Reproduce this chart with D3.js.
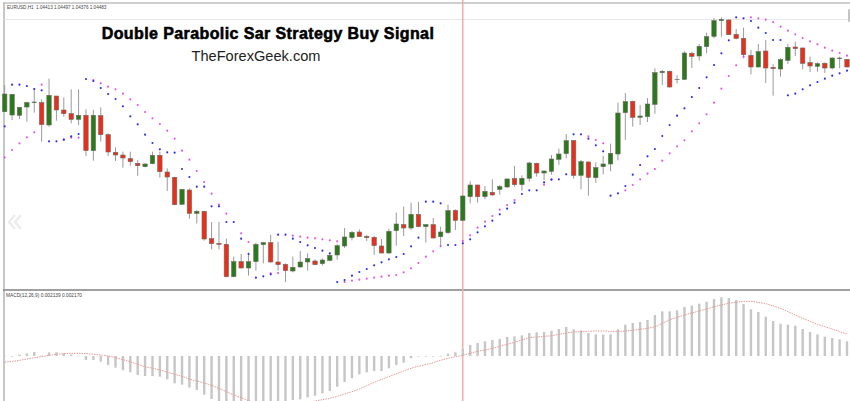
<!DOCTYPE html>
<html lang="en">
<head>
<meta charset="utf-8" />
<title>Double Parabolic Sar Strategy Buy Signal</title>
<script src="https://d3js.org/d3.v7.min.js"></script>
<style>
    html, body { margin: 0; padding: 0; background: #fff; overflow: hidden; }
    svg { display: block; }
</style>
</head>
<body>
<div id="chart"></div>
<script>
// prices, in points above the bottom of the price pane
var open = [535,525,524,549,562,562,495,582,540,529,512,524,418,523,466,413,405,394,380,370,379,404,354,338,257,300,230,236,154,140,137,40,85,66,85,136,142,84,77,57,69,84,87,79,89,105,132,157,174,161,158,132,111,178,196,186,227,190,196,160,172,239,209,280,315,280,293,302,309,334,316,335,380,351,356,392,409,448,344,384,337,370,378,408,532,566,518,520,557,652,656,631,632,710,702,730,761,808,810,767,755,704,669,717,668,663,689,729,726,682,671,680,666,694,692];
var close = [588,587,548,562,564,496,584,540,529,512,524,418,524,466,414,405,396,385,373,378,404,355,339,256,302,230,236,153,139,137,40,85,66,85,137,142,84,76,58,68,84,94,76,90,104,133,159,173,160,157,133,111,176,198,186,227,190,196,156,174,238,209,282,315,280,296,285,310,333,316,335,381,351,357,393,408,448,344,385,338,367,378,410,531,565,518,522,558,652,656,609,632,711,701,731,760,808,812,766,755,706,669,715,666,664,691,728,724,680,672,679,666,696,696,669];
var high = [615,588,548,565,605,572,634,582,578,602,602,542,540,548,470,428,415,415,390,380,415,415,365,340,302,305,240,238,204,204,154,100,108,112,142,144,166,145,80,100,117,110,92,95,112,137,186,177,182,165,162,153,184,232,250,262,264,198,216,190,256,242,284,326,316,312,332,315,335,372,344,385,382,358,405,424,468,450,390,386,383,402,439,562,591,568,555,576,665,660,658,644,716,715,738,772,816,818,812,783,787,720,738,750,678,695,738,745,728,700,683,683,698,700,692];
var low = [535,510,513,505,532,445,490,508,520,500,495,402,388,445,402,387,367,373,343,368,377,337,297,254,256,214,200,148,122,122,38,38,64,43,58,80,82,58,24,53,67,58,75,73,86,91,126,149,159,147,105,110,108,133,162,180,188,142,154,128,168,180,208,260,262,272,283,286,306,310,298,325,340,330,346,375,395,334,302,283,321,347,356,389,450,490,495,504,529,615,607,620,630,666,688,710,755,760,765,752,695,647,668,621,583,640,678,702,662,654,655,651,662,665,668];

// the two parabolic SAR series, null where no dot can be seen
var sarFast = [491,616,616,612,603,599,446,446,451,461,468,633,627,606,588,573,551,521,497,466,441,422,413,412,363,339,310,310,251,251,204,204,154,108,37,41,47,166,166,154,144,134,126,118,110,24,30,43,54,63,74,83,92,99,108,131,157,265,265,260,135,135,140,152,173,191,208,227,244,262,288,299,299,323,331,332,347,467,467,454,434,416,283,290,312,346,375,401,423,462,495,523,545,579,606,638,675,710,749,818,815,807,787,771,750,750,584,589,602,614,624,634,643,650,658];
var sarSlow = [398,420,440,458,473,616,null,null,451,457,457,null,630,620,610,602,589,572,555,534,515,498,478,454,418,391,357,324,289,256,229,null,170,144,null,null,50,51,null,163,160,157,155,152,149,146,24,28,31,34,37,40,43,45,53,65,81,100,116,132,null,null,147,164,187,205,222,241,255,270,null,null,null,316,332,null,null,null,null,461,450,440,null,null,299,315,332,349,363,388,410,431,449,476,500,527,562,604,642,674,700,818,815,811,804,790,778,767,756,746,737,727,718,711,703];

// MACD pane
var macdHist = [0,0,4,8,12,1,11,11,8,4,1,-12,-12,-17,-27,-35,-43,-49,-57,-60,-60,-62,-70,-82,-86,-95,-102,-116,-129,-138,-142,-146,-148,-150,-150,-148,-146,-142,-138,-132,-130,-124,-119,-112,-105,-92,-78,-67,-55,-49,-45,-45,-37,-27,-20,-7,-2,0,-1,-1,7,11,21,33,39,44,48,51,57,59,62,69,71,72,76,81,87,80,77,69,65,64,65,80,94,99,102,108,123,134,134,137,147,151,157,163,171,176,174,168,156,140,132,118,105,97,94,91,81,72,65,58,54,50,44];
var macdSignal = [-19,-16,-13,-9,-5,-2,2,5,7,8,8,7,5,3,0,-5,-11,-17,-25,-32,-37,-42,-48,-55,-61,-69,-75,-81,-88,-97,-107,-117,-125,-134,-140,-145,-149,-151,-151,-149,-145,-140,-135,-131,-127,-121,-114,-107,-99,-89,-79,-70,-62,-53,-45,-37,-31,-26,-20,-13,-7,-2,2,8,14,18,23,29,35,41,48,55,57,59,61,65,69,72,73,74,75,75,74,74,75,77,80,83,88,98,108,116,123,129,135,141,148,153,158,161,164,164,161,157,150,143,133,123,113,104,95,88,81,73,66];

var titleText = "Double Parabolic Sar Strategy Buy Signal";
var subtitleText = "TheForexGeek.com";
var priceLabel = "EURUSD,H1  1.04413 1.04497 1.04376 1.04483";
var macdLabel = "MACD(12,26,9) 0.002139 0.002170";
var cursorBar = 62;

var width = 850, height = 401;

var svg = d3.select("#chart")
    .append("svg")
    .attr("width", width)
    .attr("height", height);

// the reference is a scaled screenshot, so everything is a bit soft
var defs = svg.append("defs");
defs.append("filter").attr("id", "soft")
    .append("feGaussianBlur").attr("stdDeviation", 0.45);

var x = d3.scaleLinear().domain([0, open.length - 1]).range([4.7, 847]);
var y = d3.scaleLinear().domain([0, 870]).range([290, 0]);
var yMacd = d3.scaleLinear().domain([-135, 0]).range([401, 356]);

var chart = svg.append("g").attr("filter", "url(#soft)");

// frame
chart.append("line").attr("x1", 4).attr("x2", 4).attr("y1", 3).attr("y2", 401)
    .attr("stroke", "#a0a0a0").attr("stroke-width", 1.2);
chart.append("line").attr("x1", 3).attr("x2", 850).attr("y1", 3).attr("y2", 3)
    .attr("stroke", "#a0a0a0").attr("stroke-width", 1.2);
chart.append("line").attr("x1", 4).attr("x2", 850).attr("y1", 19.5).attr("y2", 19.5)
    .attr("stroke", "#e8e8e8").attr("stroke-width", 1);
chart.append("line").attr("x1", 3).attr("x2", 850).attr("y1", 290).attr("y2", 290)
    .attr("stroke", "#808080").attr("stroke-width", 1.6);
chart.append("rect").attr("x", 848).attr("y", 9).attr("width", 3).attr("height", 13).attr("rx", 1.5)
    .attr("fill", "#c4c4c4");

// crosshair
chart.append("line")
    .attr("x1", x(cursorBar)).attr("x2", x(cursorBar))
    .attr("y1", 0).attr("y2", height)
    .attr("stroke", "#eeaaa6").attr("stroke-width", 1.4);

// back arrow on the left edge
chart.append("path")
    .attr("d", "M15 215 L9 222 L15 229 M21 215 L15 222 L21 229")
    .attr("fill", "none").attr("stroke", "#ececec").attr("stroke-width", 2.4);

// candles
var candles = chart.append("g").selectAll("g")
    .data(open.map(function (d, i) { return i; }))
    .enter()
    .append("g");

candles.append("line")
    .attr("x1", function (i) { return x(i); })
    .attr("x2", function (i) { return x(i); })
    .attr("y1", function (i) { return y(high[i]); })
    .attr("y2", function (i) { return y(low[i]); })
    .attr("stroke", "#9a9a9a")
    .attr("stroke-width", 1);

candles.append("rect")
    .attr("x", function (i) { return x(i) - 2.2; })
    .attr("y", function (i) { return y(Math.max(open[i], close[i])); })
    .attr("width", 4.4)
    .attr("height", function (i) { return Math.abs(y(open[i]) - y(close[i])); })
    .attr("fill", function (i) { return close[i] >= open[i] ? "#2c7a1a" : "#ea2e1e"; })
    .attr("stroke", "#6b6b5f")
    .attr("stroke-width", 0.6);

// parabolic SAR dots
function drawDots(values, colour) {
    chart.append("g").selectAll("circle")
        .data(values.map(function (v, i) { return { i: i, v: v }; }).filter(function (d) { return d.v !== null; }))
        .enter()
        .append("circle")
        .attr("cx", function (d) { return x(d.i); })
        .attr("cy", function (d) { return y(d.v); })
        .attr("r", 1.05)
        .attr("fill", colour);
}
drawDots(sarSlow, "#e552e8");
drawDots(sarFast, "#2b2bf2");

// MACD histogram
chart.append("g").selectAll("rect")
    .data(macdHist.map(function (v, i) { return { i: i, v: v }; }))
    .enter()
    .append("rect")
    .attr("x", function (d) { return x(d.i) - 1.2; })
    .attr("y", function (d) { return Math.min(yMacd(d.v), yMacd(0)); })
    .attr("width", 2.4)
    .attr("height", function (d) { return Math.max(Math.abs(yMacd(d.v) - yMacd(0)), 0.6); })
    .attr("fill", "#c6c6c6");

// MACD signal line
var signalLine = d3.line()
    .x(function (d, i) { return x(i); })
    .y(function (d) { return yMacd(d); })
    .curve(d3.curveMonotoneX);

chart.append("path")
    .datum(macdSignal)
    .attr("d", signalLine)
    .attr("fill", "none")
    .attr("stroke", "#e59a95")
    .attr("stroke-width", 1)
    .attr("stroke-dasharray", "1.5,1");

// text stays out of the blur so that it is crisp enough to read
svg.append("text")
    .attr("x", 268).attr("y", 39)
    .attr("text-anchor", "middle")
    .attr("font-family", "Liberation Sans")
    .attr("font-weight", "bold")
    .attr("font-size", 16)
    .attr("letter-spacing", 0.4)
    .attr("stroke", "#000").attr("stroke-width", 0.55)
    .text(titleText);

svg.append("text")
    .attr("x", 256).attr("y", 61)
    .attr("text-anchor", "middle")
    .attr("font-family", "Liberation Sans")
    .attr("font-size", 14.6)
    .attr("fill", "#222")
    .text(subtitleText);

svg.append("text")
    .attr("x", 7).attr("y", 9)
    .attr("font-family", "Liberation Sans")
    .attr("font-size", 4.6)
    .attr("fill", "#444")
    .attr("xml:space", "preserve")
    .text(priceLabel);

svg.append("text")
    .attr("x", 6).attr("y", 297)
    .attr("font-family", "Liberation Sans")
    .attr("font-size", 4.8)
    .attr("fill", "#444")
    .text(macdLabel);
</script>
</body>
</html>
